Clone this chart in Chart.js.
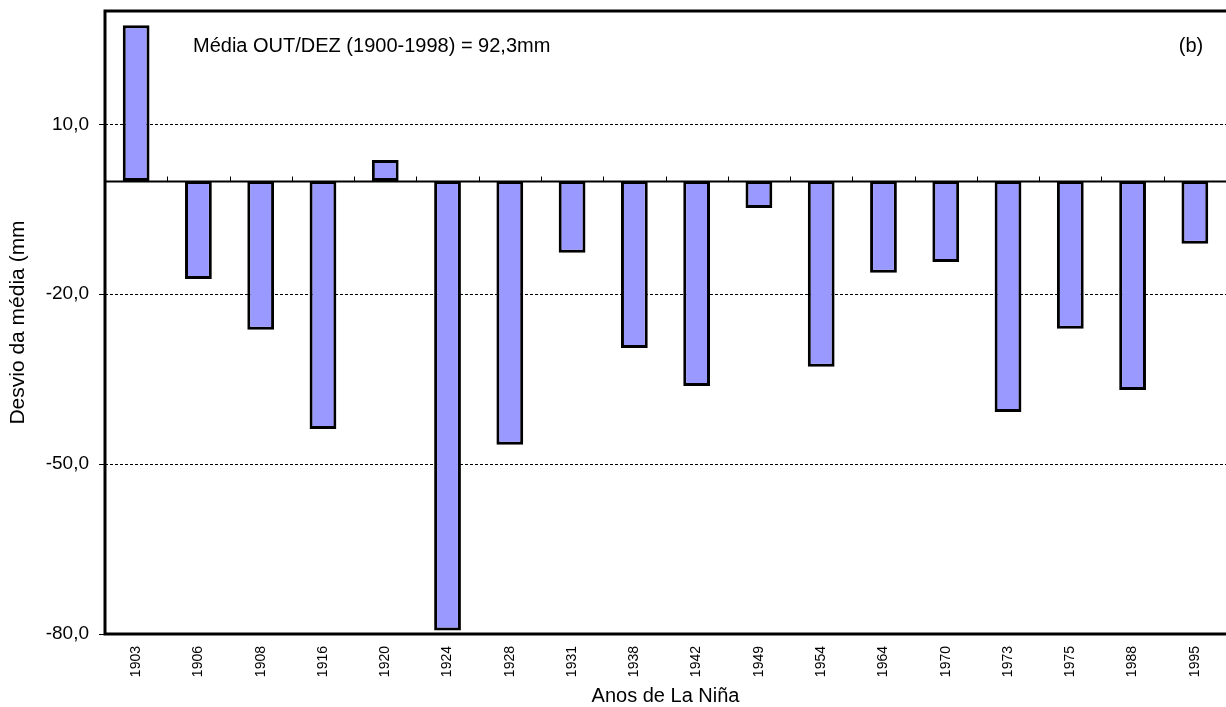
<!DOCTYPE html>
<html>
<head>
<meta charset="utf-8">
<script src="https://cdn.jsdelivr.net/npm/chart.js@4/dist/chart.umd.min.js"></script>
<style>
  html, body { margin: 0; padding: 0; background: #fff; }
  #wrap { width: 1226px; height: 707px; }
</style>
</head>
<body>
<div id="wrap"><canvas id="chart"></canvas></div>
<script>
const years = ["1903", "1906", "1908", "1916", "1920", "1924", "1928", "1931", "1938",
  "1942", "1949", "1954", "1964", "1970", "1973", "1975", "1988", "1995"];
const deviations = [27.5, -17.3, -26.3, -43.8, 3.7, -79.4, -46.6, -12.7, -29.5,
  -36.2, -4.8, -32.8, -16.2, -14.3, -40.8, -26.1, -36.9, -11.1];
const yTicks = [-80, -50, -20, 10];

const FONT = "'Liberation Sans', Arial, sans-serif";

// frame, zero line and the small category ticks on it, plus the two notes
const extras = {
  id: "extras",
  afterDatasetsDraw(chart) {
    const { ctx, chartArea: a, scales } = chart;
    const y0 = Math.round(scales.y.getPixelForValue(0)) + 0.5;
    ctx.save();
    ctx.strokeStyle = "#000";
    ctx.lineWidth = 2;
    ctx.beginPath();
    ctx.moveTo(a.left, y0);
    ctx.lineTo(a.right, y0);
    ctx.stroke();
    ctx.lineWidth = 1;
    for (let i = 1; i < years.length; i++) {
      const x = Math.round((scales.x.getPixelForValue(i - 1) + scales.x.getPixelForValue(i)) / 2) + 0.5;
      ctx.beginPath();
      ctx.moveTo(x, y0);
      ctx.lineTo(x, y0 - 5);
      ctx.stroke();
    }
    ctx.lineWidth = 3;
    ctx.strokeRect(a.left, a.top, a.right - a.left + 3, a.bottom - a.top);
    ctx.fillStyle = "#000";
    ctx.font = "20px " + FONT;
    ctx.textBaseline = "middle";
    ctx.textAlign = "left";
    ctx.fillText("Média OUT/DEZ (1900-1998) = 92,3mm", 193, 46);
    ctx.textAlign = "center";
    ctx.fillText("(b)", 1191, 46);
    ctx.restore();
  },
};

new Chart(document.getElementById("chart"), {
  type: "bar",
  data: {
    labels: years,
    datasets: [
      {
        data: deviations,
        backgroundColor: "#9999ff",
        borderColor: "#000",
        borderWidth: 3,
        borderSkipped: false,
        barPercentage: 0.43,
        categoryPercentage: 1,
      },
    ],
  },
  options: {
    responsive: true,
    maintainAspectRatio: false,
    animation: false,
    layout: { padding: { top: 0, right: 0, bottom: 0, left: 0 } },
    scales: {
      x: {
        grid: { display: false, drawTicks: false },
        border: { display: false },
        ticks: {
          font: { family: FONT, size: 14 },
          color: "#000",
          minRotation: 90,
          maxRotation: 90,
          padding: 12,
          autoSkip: false,
        },
        title: {
          display: true,
          text: "Anos de La Niña",
          font: { family: FONT, size: 20 },
          color: "#000",
          padding: { top: 4, bottom: -1 },
        },
        afterFit: (scale) => { scale.height = 73; },
      },
      y: {
        min: -80,
        max: 30,
        afterBuildTicks: (scale) => { scale.ticks = yTicks.map((v) => ({ value: v })); },
        afterFit: (scale) => {
          scale.width = 105;
          scale.paddingTop = 11;
          scale.paddingBottom = 0;
        },
        grid: {
          color: "#000",
          lineWidth: 1,
          tickLength: 6,
          tickBorderDash: [],
        },
        border: { display: false, dash: [3, 2] },
        ticks: {
          font: { family: FONT, size: 19 },
          color: "#000",
          padding: 10,
          callback: (v) => v.toFixed(1).replace(".", ","),
        },
        title: {
          display: true,
          text: "Desvio da média (mm",
          font: { family: FONT, size: 21 },
          color: "#000",
          padding: { top: 6, bottom: 0 },
        },
      },
    },
    plugins: {
      legend: { display: false },
      tooltip: { enabled: false },
    },
  },
  plugins: [extras],
});
</script>
</body>
</html>
